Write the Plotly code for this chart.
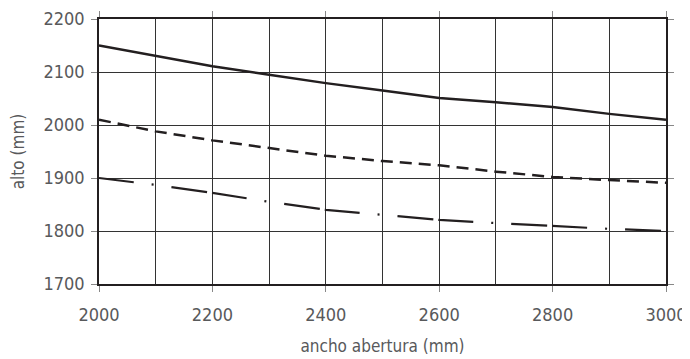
import plotly.graph_objects as go

ancho = [2000, 2100, 2200, 2300, 2400, 2500, 2600, 2700, 2800, 2900, 3000]
alto_solid = [2150, 2130, 2111, 2095, 2079, 2065, 2051, 2043, 2034, 2021, 2010]
alto_dash = [2010, 1988, 1971, 1957, 1942, 1932, 1924, 1912, 1902, 1896, 1891]
alto_dashdot = [1900, 1887, 1872, 1855, 1840, 1831, 1821, 1815, 1809, 1804, 1800]

x_ticks = [2000, 2200, 2400, 2600, 2800, 3000]
y_ticks = [1700, 1800, 1900, 2000, 2100, 2200]

FONT = "DejaVu Sans Condensed, Liberation Sans Narrow, sans-serif"
LINE = "#231f20"
TEXT = "#58595b"

fig = go.Figure()
fig.add_trace(go.Scatter(x=ancho, y=alto_solid, mode="lines",
                         line=dict(color=LINE, width=2.5), showlegend=False))
fig.add_trace(go.Scatter(x=ancho, y=alto_dash, mode="lines",
                         line=dict(color=LINE, width=2.5, dash="12px,7px"), showlegend=False))
fig.add_trace(go.Scatter(x=ancho, y=alto_dashdot, mode="lines",
                         line=dict(color=LINE, width=2.2, dash="35px,18px,2px,18px,36px,5px"),
                         showlegend=False))

# page body has an 8px margin, so the figure is drawn 8px in from the top-left
fig.update_layout(
    width=682, height=351,
    margin=dict(l=91, r=24, t=11, b=75),
    paper_bgcolor="white", plot_bgcolor="white",
    font=dict(family=FONT, size=18, color=TEXT),
)
fig.update_xaxes(
    range=[2000, 3000], tickvals=x_ticks, ticktext=[str(v) for v in x_ticks],
    showgrid=True, gridcolor="#333333", gridwidth=1,
    minor=dict(dtick=100, tick0=2000, showgrid=True, gridcolor="#333333", gridwidth=1),
    showline=True, linecolor="#231f20", linewidth=1.5, mirror="all",
    ticks="outside", ticklen=6, tickcolor="#888888", ticklabelstandoff=8,
    ticklabeloverflow="allow",
    title=dict(text="ancho abertura (mm)", font=dict(size=17, color=TEXT), standoff=16),
    zeroline=False, automargin=False,
)
fig.update_yaxes(
    range=[1700, 2200], tickvals=y_ticks, ticktext=[str(v) for v in y_ticks],
    showgrid=True, gridcolor="#333333", gridwidth=1,
    showline=True, linecolor="#231f20", linewidth=1.5, mirror="all",
    ticks="outside", ticklen=6, tickcolor="#888888", ticklabelstandoff=3,
    ticklabeloverflow="allow",
    title=dict(text="alto (mm)", font=dict(size=17, color=TEXT), standoff=20),
    zeroline=False, automargin=False,
)

fig.write_html("out.html")
